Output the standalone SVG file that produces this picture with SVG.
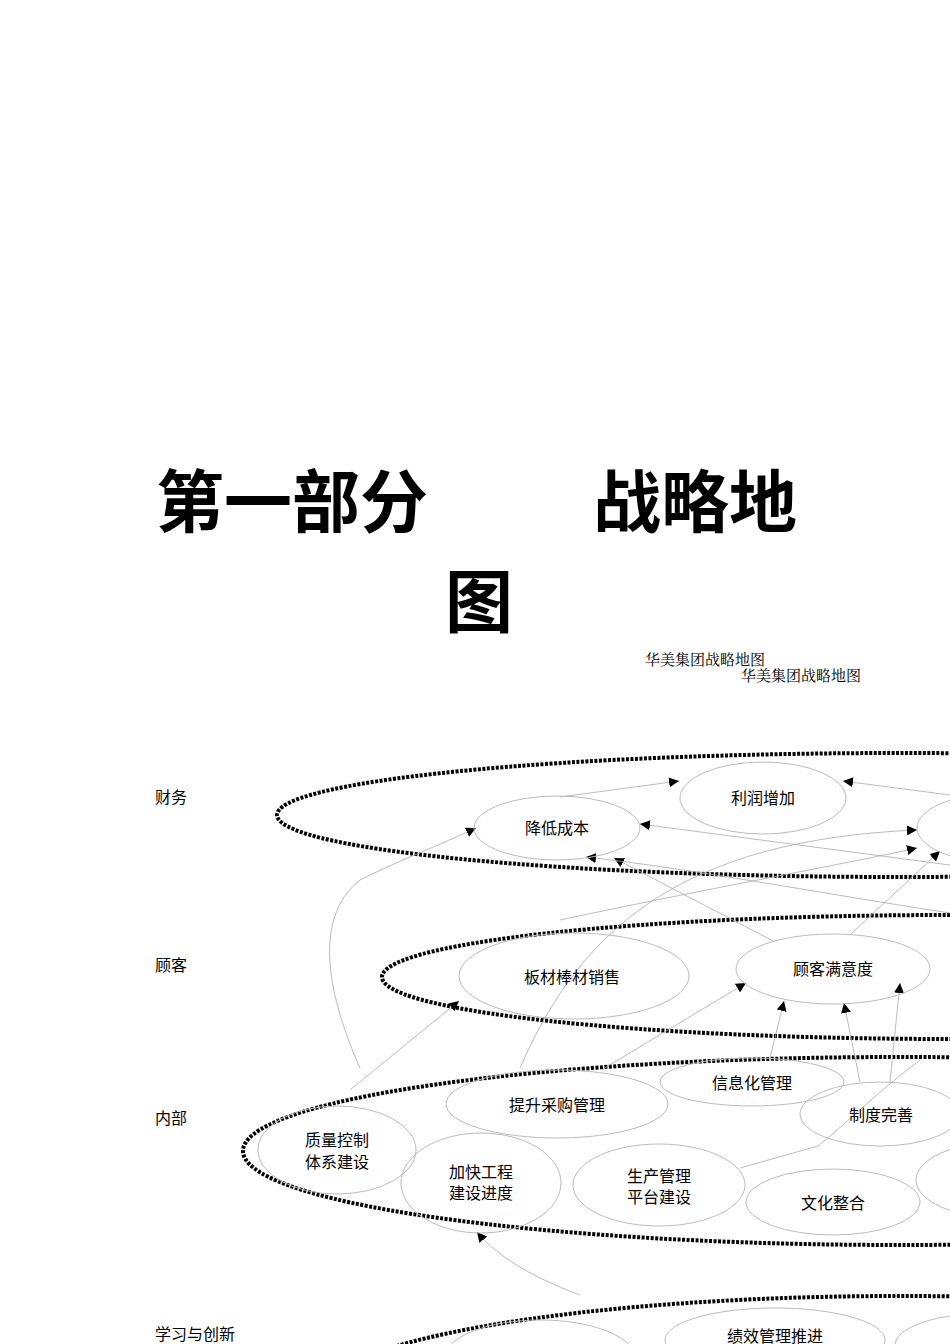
<svg xmlns="http://www.w3.org/2000/svg" width="950" height="1344" viewBox="0 0 950 1344">
<style>
.t{font-family:"Liberation Sans","Noto Sans CJK SC",sans-serif;font-size:16px;fill:#000;text-anchor:middle}
.l{font-family:"Liberation Sans","Noto Sans CJK SC",sans-serif;font-size:16px;fill:#000}
.h{font-family:"Noto Sans CJK SC",sans-serif;font-size:68px;font-weight:bold;fill:#000}
.s{font-family:"Liberation Serif","Noto Serif CJK SC","Noto Sans CJK SC",serif;font-size:15px;fill:#000}
.band{fill:none;stroke:#000;stroke-width:4;stroke-dasharray:3 1.5}
.n{fill:none;stroke:#bbb;stroke-width:1}
.c{fill:none;stroke:#aaa;stroke-width:0.8;marker-end:url(#a)}
.c0{fill:none;stroke:#aaa;stroke-width:0.8}
</style>
<defs><marker id="a" viewBox="0 0 10 10" refX="10" refY="5" markerWidth="10" markerHeight="10" markerUnits="userSpaceOnUse" orient="auto"><path d="M0,0L10,5L0,10z" fill="#000"/></marker></defs>
<rect width="950" height="1344" fill="#fff"/>
<text class="h" x="156" y="527">第一部分</text>
<text class="h" x="593" y="527">战略地</text>
<text class="h" x="445" y="627">图</text>
<text class="s" x="645" y="665">华美集团战略地图</text>
<text class="s" x="741" y="681">华美集团战略地图</text>
<text class="l" x="155" y="803">财务</text>
<text class="l" x="155" y="971">顾客</text>
<text class="l" x="155" y="1124">内部</text>
<text class="l" x="155" y="1340">学习与创新</text>
<g id="bands">
<ellipse class="band" cx="900" cy="815" rx="623" ry="62"/>
<ellipse class="band" cx="950" cy="977" rx="568" ry="62"/>
<ellipse class="band" cx="900" cy="1151" rx="657" ry="94"/>
<ellipse class="band" cx="900" cy="1398" rx="585" ry="102"/>
</g>
<g id="connectors">
<path class="c" d="M560,797 L679,781"/>
<path class="c" d="M950,795 L843,781"/>
<path class="c" d="M950,865 L640,824"/>
<path class="c" d="M560,920 C700,890 840,865 917,848"/>
<path class="c" d="M850,935 L940,851"/>
<path class="c" d="M775,942 L614,858"/>
<path class="c" d="M950,913 C800,890 700,870 586,857"/>
<path class="c" d="M360,1068 C330,1000 310,920 360,880 C400,860 440,845 476,828"/>
<path class="c" d="M350,1090 L459,1001"/>
<path class="c" d="M520,1068 C580,930 680,840 917,830"/>
<path class="c" d="M603,1069 L746,983"/>
<path class="c" d="M770,1058 L784,1001"/>
<path class="c" d="M860,1082 L844,1003"/>
<path class="c" d="M890,1082 L900,983"/>
<path class="c0" d="M740,1168 L818,1146 C850,1120 880,1090 920,1060"/>
<path class="c" d="M580,1295 C540,1280 500,1260 477,1232"/>
</g>
<g id="n-lirun"><ellipse class="n" cx="763" cy="798" rx="83" ry="36"/><text class="t" x="763" y="804">利润增加</text></g>
<g id="n-jiangdi"><ellipse class="n" cx="557" cy="828" rx="83" ry="32"/><text class="t" x="557" y="834">降低成本</text></g>
<g id="n-fin3"><ellipse class="n" cx="1000" cy="828" rx="83" ry="35"/></g>
<g id="n-bancai"><ellipse class="n" cx="574" cy="976" rx="115" ry="43"/><text class="t" x="572" y="983">板材棒材销售</text></g>
<g id="n-manyi"><ellipse class="n" cx="833" cy="969" rx="97" ry="35"/><text class="t" x="833" y="975">顾客满意度</text></g>
<g id="n-xinxi"><ellipse class="n" cx="752" cy="1082" rx="92" ry="24"/><text class="t" x="752" y="1089">信息化管理</text></g>
<g id="n-caigou"><ellipse class="n" cx="557" cy="1104" rx="111" ry="34"/><text class="t" x="557" y="1111">提升采购管理</text></g>
<g id="n-zhidu"><ellipse class="n" cx="880" cy="1114" rx="80" ry="32"/><text class="t" x="881" y="1121">制度完善</text></g>
<g id="n-zhiliang"><ellipse class="n" cx="337" cy="1150" rx="79" ry="44"/><text class="t" x="337" y="1146">质量控制</text><text class="t" x="337" y="1168">体系建设</text></g>
<g id="n-gongcheng"><ellipse class="n" cx="481" cy="1183" rx="80" ry="50"/><text class="t" x="481" y="1178">加快工程</text><text class="t" x="481" y="1199">建设进度</text></g>
<g id="n-shengchan"><ellipse class="n" cx="659" cy="1185" rx="86" ry="41"/><text class="t" x="659" y="1182">生产管理</text><text class="t" x="659" y="1203">平台建设</text></g>
<g id="n-wenhua"><ellipse class="n" cx="833" cy="1202" rx="87" ry="33"/><text class="t" x="833" y="1209">文化整合</text></g>
<g id="n-int9"><ellipse class="n" cx="1000" cy="1180" rx="84" ry="38"/></g>
<g id="n-learn1"><ellipse class="n" cx="540" cy="1358" rx="95" ry="38"/></g>
<g id="n-jixiao"><ellipse class="n" cx="775" cy="1340" rx="110" ry="32"/><text class="t" x="775" y="1342">绩效管理推进</text></g>
<g id="n-learn3"><ellipse class="n" cx="990" cy="1345" rx="95" ry="32"/></g>
</svg>
